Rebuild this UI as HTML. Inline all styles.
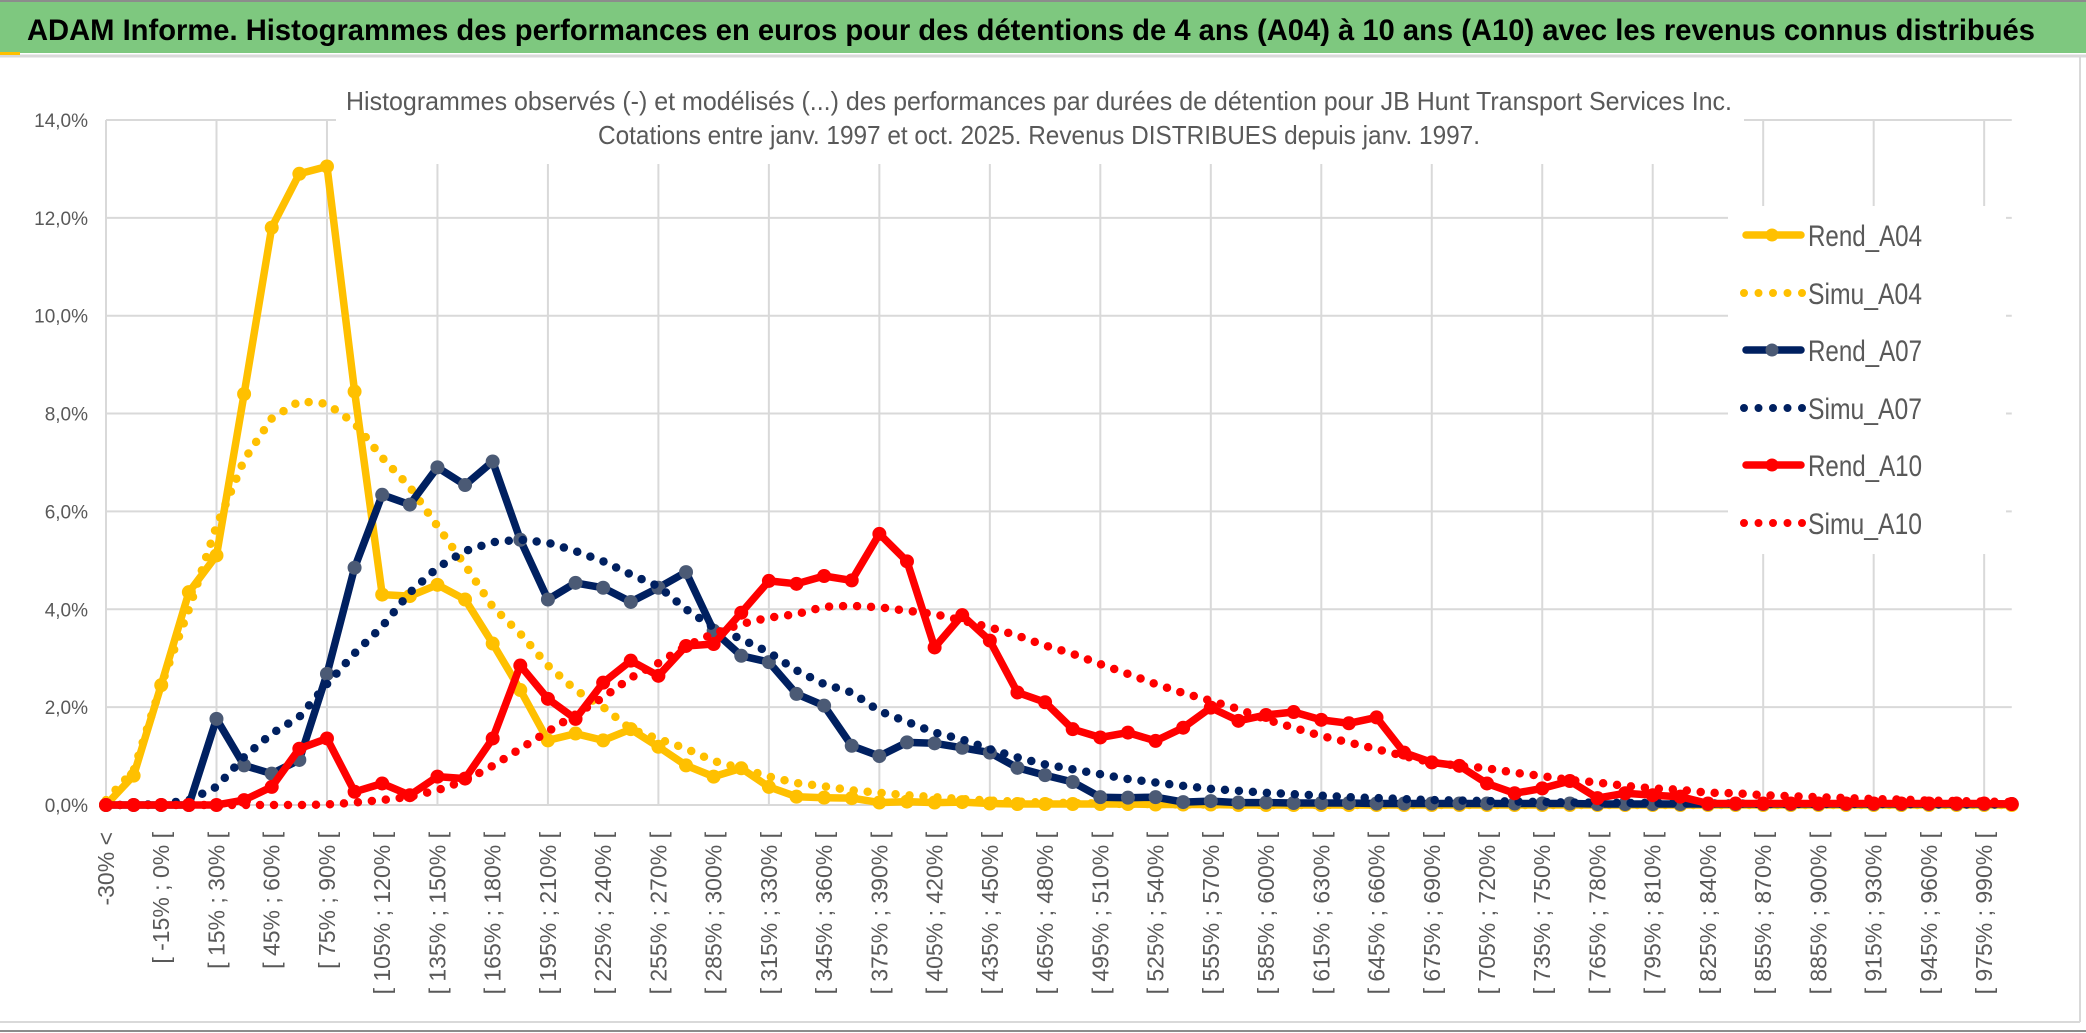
<!DOCTYPE html>
<html><head><meta charset="utf-8"><style>
html,body{margin:0;padding:0;background:#fff;}
svg{display:block;font-family:"Liberation Sans",sans-serif;}
</style></head><body>
<svg id="chart" width="2086" height="1033" viewBox="0 0 2086 1033" xmlns="http://www.w3.org/2000/svg">
<rect x="0" y="0" width="2086" height="1033" fill="#fff"/>
<rect x="0" y="2" width="2086" height="51" fill="#7ec87f"/>
<line x1="0" y1="1" x2="2086" y2="1" stroke="#8c8c8c" stroke-width="2"/>
<line x1="0" y1="56" x2="2086" y2="56" stroke="#d9d9d9" stroke-width="3"/>
<rect x="0" y="52" width="20" height="3" fill="#ffc000"/>
<text x="27" y="40" font-size="30" font-weight="bold" fill="#000" textLength="2008" lengthAdjust="spacingAndGlyphs">ADAM Informe. Histogrammes des performances en euros pour des détentions de 4 ans (A04) à 10 ans (A10) avec les revenus connus distribués</text>
<line x1="2080" y1="56" x2="2080" y2="1022" stroke="#d9d9d9" stroke-width="2"/>
<line x1="0" y1="1022" x2="2080" y2="1022" stroke="#d9d9d9" stroke-width="2"/>
<line x1="0" y1="1031" x2="2086" y2="1031" stroke="#8c8c8c" stroke-width="2"/>
<g id="grid"></g>
<g id="series"></g>
<g id="axes"></g>
<rect x="336" y="82" width="1408" height="82" fill="#fff"/>
<text x="346" y="110" font-size="26" fill="#595959" textLength="1386" lengthAdjust="spacingAndGlyphs">Histogrammes observés (-) et modélisés (...) des performances par durées de détention pour JB Hunt Transport Services Inc.</text>
<text x="598" y="144" font-size="26" fill="#595959" textLength="882" lengthAdjust="spacingAndGlyphs">Cotations entre janv. 1997 et oct. 2025. Revenus DISTRIBUES depuis janv. 1997.</text>
<g id="legend"></g>
</svg>
<script>
const rendA04 = [0,0.6,2.45,4.35,5.1,8.4,11.8,12.9,13.05,8.45,4.3,4.27,4.5,4.2,3.3,2.35,1.32,1.46,1.32,1.55,1.19,0.81,0.58,0.75,0.37,0.17,0.15,0.14,0.05,0.07,0.05,0.06,0.03,0.02,0.02,0.02,0.02,0.02,0.01,0.01,0.01,0,0,0,0,0,0,0,0,0,0,0,0,0,0,0,0,0,0,0,0,0,0,0,0,0,0,0,0,0];
const simuA04 = [0.1,0.7,2.45,4.0,5.7,7.05,7.9,8.25,8.2,7.8,7.1,6.5,5.7,4.9,4.05,3.5,2.85,2.35,2.0,1.55,1.35,1.15,0.9,0.75,0.58,0.45,0.38,0.3,0.25,0.2,0.16,0.12,0.09,0.07,0.05,0.04,0.03,0.02,0.02,0.01,0.01,0.01,0,0,0,0,0,0,0,0,0,0,0,0,0,0,0,0,0,0,0,0,0,0,0,0,0,0,0,0];
const rendA07 = [0,0,0,0,1.76,0.81,0.64,0.92,2.68,4.85,6.34,6.14,6.9,6.54,7.02,5.42,4.2,4.54,4.44,4.15,4.44,4.76,3.56,3.05,2.92,2.27,2.03,1.21,1.0,1.28,1.26,1.17,1.07,0.76,0.61,0.47,0.16,0.15,0.16,0.06,0.08,0.05,0.05,0.04,0.04,0.04,0.03,0.03,0.03,0.03,0.03,0.03,0.03,0.03,0.02,0.02,0.02,0.02,0.02,0.02,0.02,0.02,0.02,0.02,0.02,0.02,0.02,0.02,0.02,0.02];
const simuA07 = [0,0,0.02,0.1,0.37,0.98,1.46,1.8,2.47,3.1,3.65,4.34,4.85,5.19,5.37,5.42,5.36,5.19,4.98,4.71,4.47,4.0,3.63,3.39,3.12,2.75,2.47,2.3,1.92,1.7,1.48,1.34,1.14,0.97,0.83,0.73,0.63,0.53,0.46,0.39,0.33,0.29,0.25,0.22,0.19,0.16,0.14,0.12,0.1,0.09,0.08,0.07,0.06,0.05,0.05,0.04,0.04,0.03,0.03,0.03,0.02,0.02,0.02,0.02,0.02,0.02,0.01,0.01,0.01,0.01];
const rendA10 = [0,0,0,0,0,0.1,0.37,1.15,1.36,0.27,0.44,0.2,0.58,0.54,1.36,2.85,2.17,1.76,2.5,2.95,2.64,3.25,3.29,3.93,4.58,4.52,4.68,4.59,5.54,4.98,3.22,3.88,3.36,2.3,2.1,1.55,1.38,1.48,1.31,1.58,1.99,1.72,1.84,1.9,1.74,1.67,1.79,1.07,0.87,0.8,0.44,0.24,0.34,0.49,0.14,0.24,0.2,0.17,0.03,0.03,0.03,0.03,0.03,0.03,0.03,0.03,0.03,0.03,0.03,0.02];
const simuA10 = [0,0,0,0,0,0,0,0,0.01,0.05,0.1,0.17,0.3,0.5,0.8,1.15,1.5,1.85,2.2,2.6,2.9,3.25,3.5,3.7,3.83,3.9,4.05,4.07,4.04,3.97,3.9,3.77,3.63,3.46,3.26,3.09,2.88,2.68,2.47,2.29,2.13,1.96,1.75,1.58,1.41,1.28,1.14,1.0,0.87,0.8,0.75,0.66,0.59,0.51,0.46,0.39,0.34,0.31,0.25,0.24,0.2,0.18,0.16,0.14,0.12,0.11,0.09,0.08,0.07,0.06];
const yTicks = [0,2,4,6,8,10,12,14];
const yTickLabels = ["0,0%","2,0%","4,0%","6,0%","8,0%","10,0%","12,0%","14,0%"];
const categories = ["-30% <"];
for (let b = -30; b <= 990; b += 15) categories.push("[ " + b + "% ; " + (b + 15) + "% [");
const seriesNames = ["Rend_A04","Simu_A04","Rend_A07","Simu_A07","Rend_A10","Simu_A10"];

const NS = "http://www.w3.org/2000/svg";
const X0 = 106, STEP = 27.62, Y0 = 805, PER = 48.93;
function xs(i){ return X0 + i * STEP; }
function ys(v){ return Y0 - v * PER; }
function mk(tag, attrs, parent){ const e = document.createElementNS(NS, tag); for (const k in attrs) e.setAttribute(k, attrs[k]); parent.appendChild(e); return e; }

const grid = document.getElementById('grid');
const plotRight = xs(categories.length - 1);
yTicks.forEach(function(t){
  const l = mk('line', {x1: X0, x2: plotRight, y1: ys(t), y2: ys(t), stroke: '#d9d9d9', 'stroke-width': 2}, grid);
  
  
});
for (let i = 0; i < categories.length; i += 4) {
  const l = mk('line', {x1: xs(i), x2: xs(i), y1: ys(14), y2: Y0, stroke: '#d9d9d9', 'stroke-width': 2}, grid);
  
  
}

const axes = document.getElementById('axes');
yTicks.forEach(function(t, k){
  const tx = mk('text', {x: 88, y: ys(t) + 7, 'font-size': 19, fill: '#595959', 'text-anchor': 'end'}, axes);
  tx.textContent = yTickLabels[k];
  
  
});
for (let i = 0; i < categories.length; i += 2) {
  const x = xs(i), y = 832;
  const tx = mk('text', {x: x, y: y, 'font-size': 23, fill: '#595959', 'text-anchor': 'end', 'dominant-baseline': 'central', transform: 'rotate(-90 ' + x + ' ' + y + ')'}, axes);
  tx.textContent = categories[i];
  
  
}

const sg = document.getElementById('series');
function drawSeries(vals, color, dotted, markerFill, name){
  const g = mk('g', {}, sg);
  
  
  const pts = vals.map(function(v, i){ return xs(i).toFixed(1) + ',' + ys(v).toFixed(1); }).join(' ');
  const attrs = {points: pts, fill: 'none', stroke: color, 'stroke-linejoin': 'round', 'stroke-linecap': 'round'};
  if (dotted) { attrs['stroke-width'] = 8.5; attrs['stroke-dasharray'] = '0 14'; }
  else { attrs['stroke-width'] = 7.5; }
  const pl = mk('polyline', attrs, g);
  
  
  if (!dotted) {
    vals.forEach(function(v, i){
      const c = mk('circle', {cx: xs(i), cy: ys(v), r: 7, fill: markerFill}, g);
      
      
    });
  }
}
drawSeries(rendA04, '#ffc000', false, '#ffc000', 'rend-a04');
drawSeries(simuA04, '#ffc000', true, null, 'simu-a04');
drawSeries(rendA07, '#002060', false, '#4b5a75', 'rend-a07');
drawSeries(simuA07, '#002060', true, null, 'simu-a07');
drawSeries(rendA10, '#ff0000', false, '#ff0000', 'rend-a10');
drawSeries(simuA10, '#ff0000', true, null, 'simu-a10');

const lg = document.getElementById('legend');
mk('rect', {x: 1728, y: 206, width: 278, height: 348, fill: '#fff'}, lg);
const lgColors = ['#ffc000','#ffc000','#002060','#002060','#ff0000','#ff0000'];
const lgMarker = ['#ffc000',null,'#4b5a75',null,'#ff0000',null];
const lgY = [235,293,350,408,465,523];
seriesNames.forEach(function(n, k){
  const y = lgY[k];
  const e = mk('g', {}, lg);
  
  
  if (lgMarker[k]) {
    mk('line', {x1: 1746, x2: 1801, y1: y, y2: y, stroke: lgColors[k], 'stroke-width': 7.5, 'stroke-linecap': 'round'}, e);
    mk('circle', {cx: 1772, cy: y, r: 6.5, fill: lgMarker[k]}, e);
  } else {
    mk('line', {x1: 1744, x2: 1803, y1: y, y2: y, stroke: lgColors[k], 'stroke-width': 8, 'stroke-linecap': 'round', 'stroke-dasharray': '0 14.5'}, e);
  }
  const t = mk('text', {x: 1808, y: y + 11, 'font-size': 30, fill: '#595959', textLength: 114, lengthAdjust: 'spacingAndGlyphs'}, e);
  t.textContent = n;
});
</script>
</body></html>
